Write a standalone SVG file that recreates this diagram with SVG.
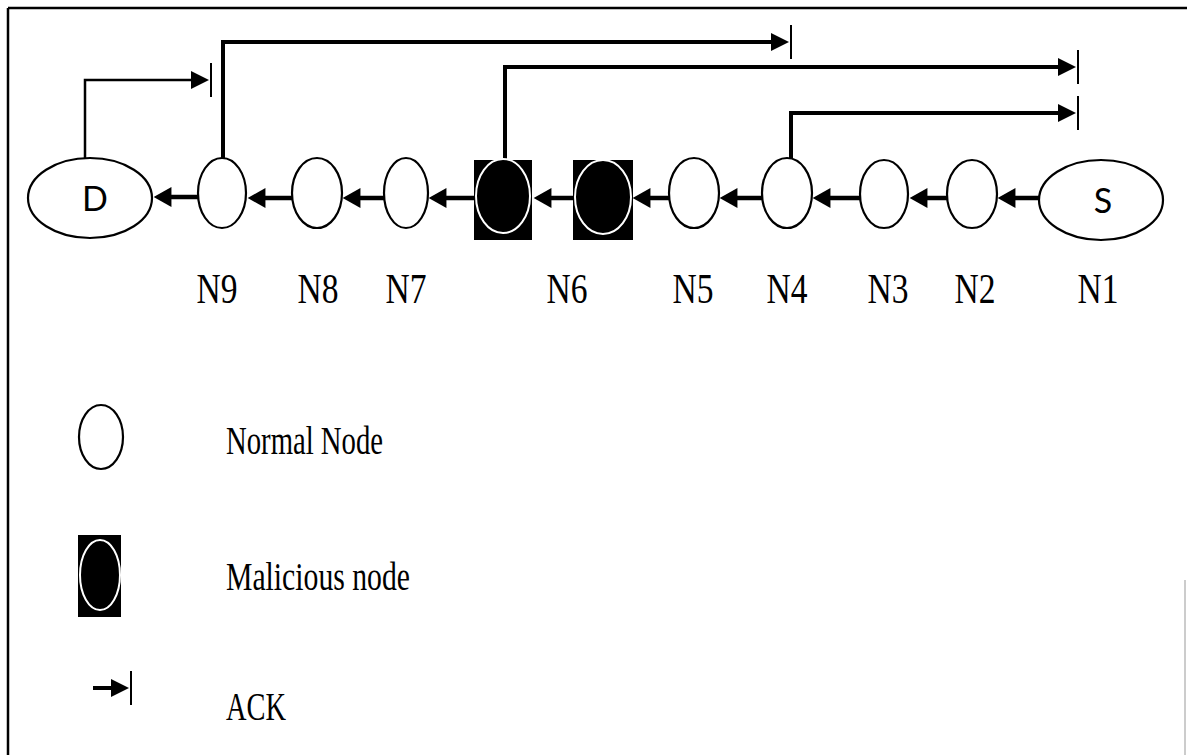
<svg xmlns="http://www.w3.org/2000/svg" width="1187" height="755" viewBox="0 0 1187 755">
<style>
.nd{fill:#fff;stroke:#000;stroke-width:2.2}
.mal-box{fill:#000}
.mal{fill:#000;stroke:#fff;stroke-width:2}
.cn{fill:none;stroke:#000;stroke-width:4.5;marker-end:url(#tri)}
.ack{fill:none;stroke:#000;stroke-width:4;marker-end:url(#ackm)}
.lbl{font-family:"Liberation Serif","Times New Roman",serif;font-size:42px;fill:#000}
.leg{font-family:"Liberation Serif","Times New Roman",serif;font-size:39px;fill:#000}
.end{font-family:Lato,"Open Sans",sans-serif;font-size:34px;fill:#000}
</style>
<defs>
<marker id="tri" markerUnits="userSpaceOnUse" markerWidth="20" markerHeight="20" viewBox="0 0 16 18" refX="4" refY="9" orient="auto" overflow="visible">
<path d="M0,0 L16,9 L0,18 z" fill="#000"/>
</marker>
<marker id="ackm" markerUnits="userSpaceOnUse" markerWidth="30" markerHeight="40" refX="4" refY="0" orient="auto" overflow="visible">
<path d="M0,-9 L18,0 L0,9 z" fill="#000"/>
<line x1="20" y1="-17" x2="20" y2="17" stroke="#000" stroke-width="2"/>
</marker>
</defs>
<rect x="0" y="0" width="1187" height="755" fill="#fff"/>
<g id="frame">
<line x1="8" y1="8" x2="1187" y2="8" stroke="#000" stroke-width="2.5"/>
<line x1="8" y1="8" x2="8" y2="755" stroke="#000" stroke-width="2.5"/>
<line x1="1185" y1="580" x2="1185" y2="755" stroke="#bbb" stroke-width="1.5"/>
</g>
<g id="connectors">
<path class="cn" d="M198,197 H167"/>
<path class="cn" d="M292,198 H261"/>
<path class="cn" d="M384,198 H356"/>
<path class="cn" d="M476,198 H442"/>
<path class="cn" d="M575,198 H547"/>
<path class="cn" d="M669,198 H646"/>
<path class="cn" d="M762,198 H733"/>
<path class="cn" d="M860,198 H826"/>
<path class="cn" d="M947,198 H923"/>
<path class="cn" d="M1039,198 H1011"/>
<path class="ack" style="stroke-width:2.5" d="M85,158 V80 H195"/>
<path class="ack" d="M223,158 V42 H775"/>
<path class="ack" d="M505,160 V67 H1062"/>
<path class="ack" d="M791,158 V113 H1062"/>
</g>
<g id="node-D"><ellipse class="nd" cx="90" cy="198" rx="62" ry="40"/><text class="end" x="95" y="211" text-anchor="middle">D</text></g>
<g id="node-n9"><ellipse class="nd" cx="222" cy="193" rx="24" ry="35"/></g>
<g id="node-n8"><ellipse class="nd" cx="317" cy="193" rx="25" ry="35"/></g>
<g id="node-n7"><ellipse class="nd" cx="406" cy="193" rx="22" ry="35"/></g>
<g id="node-m1"><rect class="mal-box" x="474" y="160" width="58" height="80"/><ellipse class="mal" cx="503" cy="196" rx="27" ry="37"/></g>
<g id="node-m2"><rect class="mal-box" x="573" y="160" width="60" height="80"/><ellipse class="mal" cx="603" cy="197" rx="28" ry="37"/></g>
<g id="node-n5"><ellipse class="nd" cx="694" cy="193" rx="25" ry="35"/></g>
<g id="node-n4"><ellipse class="nd" cx="787" cy="193" rx="25" ry="35"/></g>
<g id="node-n3"><ellipse class="nd" cx="884" cy="194" rx="24" ry="34"/></g>
<g id="node-n2"><ellipse class="nd" cx="972" cy="194" rx="25" ry="34"/></g>
<g id="node-S"><ellipse class="nd" cx="1101" cy="200" rx="62" ry="40"/><text class="end" x="1103" y="213" text-anchor="middle">S</text></g>
<g id="labels">
<text class="lbl" x="217" y="303" text-anchor="middle" textLength="41" lengthAdjust="spacingAndGlyphs">N9</text>
<text class="lbl" x="318" y="303" text-anchor="middle" textLength="41" lengthAdjust="spacingAndGlyphs">N8</text>
<text class="lbl" x="406" y="303" text-anchor="middle" textLength="41" lengthAdjust="spacingAndGlyphs">N7</text>
<text class="lbl" x="567" y="303" text-anchor="middle" textLength="41" lengthAdjust="spacingAndGlyphs">N6</text>
<text class="lbl" x="693" y="303" text-anchor="middle" textLength="41" lengthAdjust="spacingAndGlyphs">N5</text>
<text class="lbl" x="787" y="303" text-anchor="middle" textLength="41" lengthAdjust="spacingAndGlyphs">N4</text>
<text class="lbl" x="888" y="303" text-anchor="middle" textLength="41" lengthAdjust="spacingAndGlyphs">N3</text>
<text class="lbl" x="975" y="303" text-anchor="middle" textLength="41" lengthAdjust="spacingAndGlyphs">N2</text>
<text class="lbl" x="1098" y="303" text-anchor="middle" textLength="41" lengthAdjust="spacingAndGlyphs">N1</text>
</g>
<g id="legend-normal"><ellipse class="nd" cx="101" cy="437" rx="22" ry="32"/><text class="leg" x="226" y="454" textLength="157" lengthAdjust="spacingAndGlyphs">Normal Node</text></g>
<g id="legend-malicious"><rect class="mal-box" x="78" y="535" width="43" height="82"/><ellipse class="mal" cx="100" cy="575" rx="20" ry="35"/><text class="leg" x="226" y="590" textLength="184" lengthAdjust="spacingAndGlyphs">Malicious node</text></g>
<g id="legend-ack"><path class="ack" style="stroke-width:4" d="M93,688 H115"/><text class="leg" x="226" y="720" textLength="60" lengthAdjust="spacingAndGlyphs">ACK</text></g>
</svg>
